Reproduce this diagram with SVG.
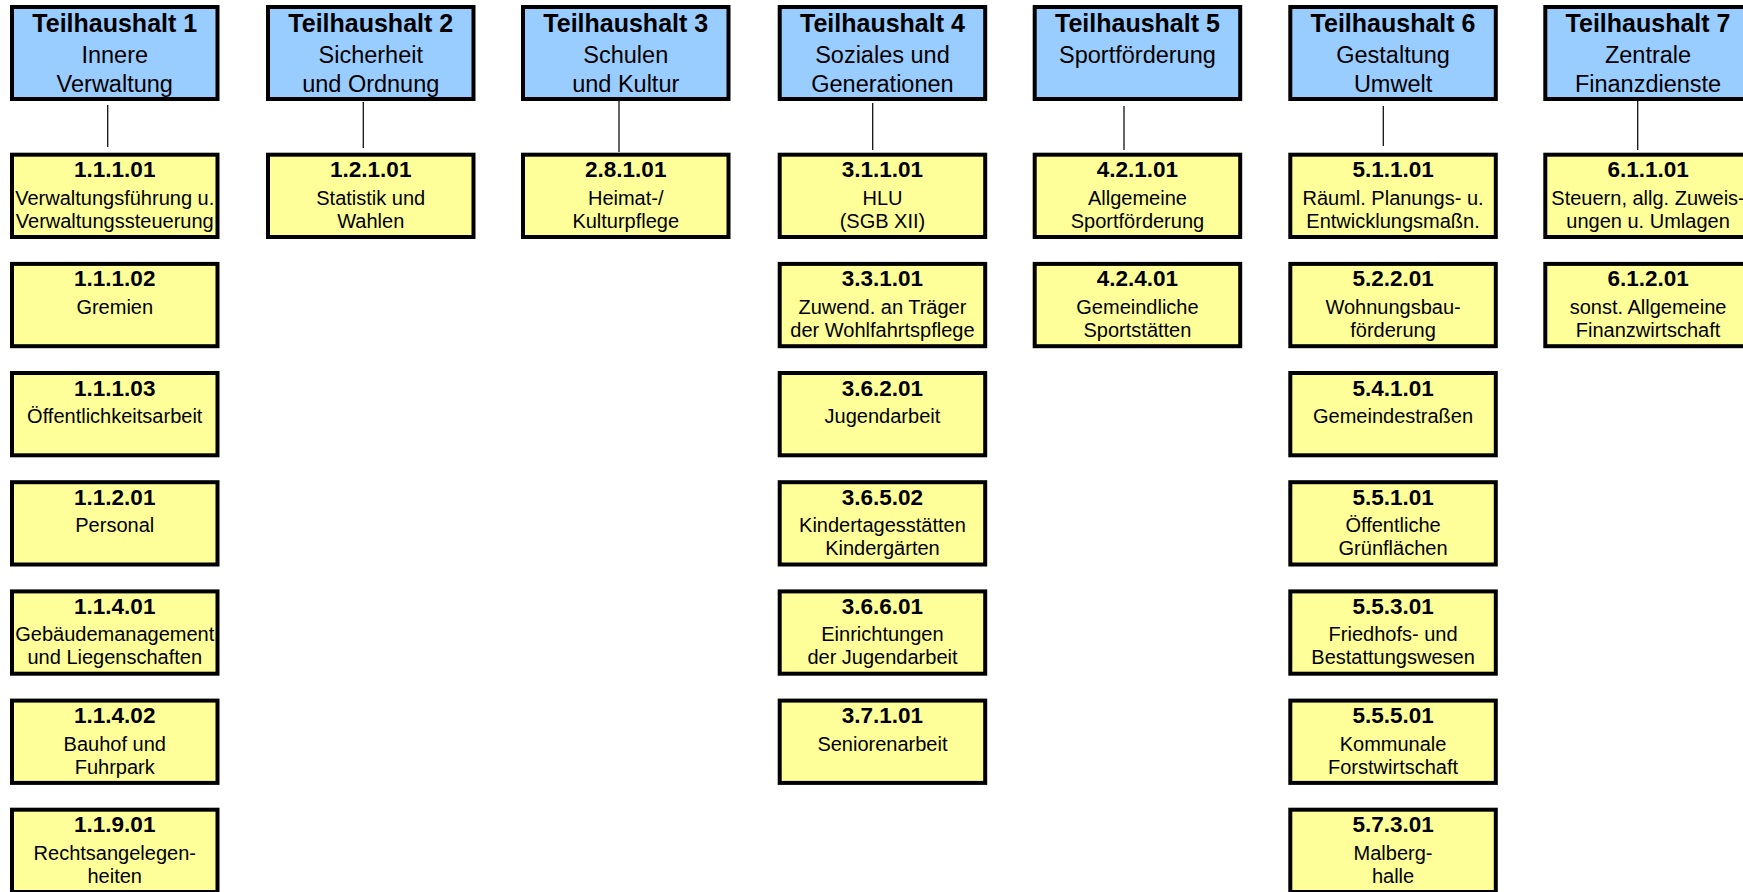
<svg xmlns="http://www.w3.org/2000/svg" width="1743" height="892" viewBox="0 0 1743 892">
<style>
.th{fill:#99CCFF;stroke:#000;stroke-width:4}
.pr{fill:#FFFF99;stroke:#000;stroke-width:4}
text{font-family:"Liberation Sans",Arial,sans-serif;fill:#000;text-anchor:middle}
.t1{font-size:25px;font-weight:bold}
.t2{font-size:23.5px}
.c{font-size:22.5px;font-weight:bold}
.s{font-size:20px}
.cn line{stroke:#111;stroke-width:1.3}
</style>
<rect width="1743" height="892" fill="#fff"/>
<g id="connectors" class="cn">
<line x1="107.7" y1="105" x2="107.7" y2="147"/>
<line x1="363.3" y1="102" x2="363.3" y2="148"/>
<line x1="619" y1="101" x2="619" y2="152"/>
<line x1="872.7" y1="103" x2="872.7" y2="150"/>
<line x1="1124" y1="106" x2="1124" y2="150"/>
<line x1="1383.3" y1="106" x2="1383.3" y2="146"/>
<line x1="1637.7" y1="101" x2="1637.7" y2="150"/>
</g>
<!-- Headers -->
<g id="th1"><rect class="th" x="12" y="7" width="205.5" height="92"/><text class="t1" x="114.75" y="32">Teilhaushalt 1</text><text class="t2" x="114.75" y="63.3">Innere</text><text class="t2" x="114.75" y="91.5">Verwaltung</text></g>
<g id="th2"><rect class="th" x="268" y="7" width="205.5" height="92"/><text class="t1" x="370.75" y="32">Teilhaushalt 2</text><text class="t2" x="370.75" y="63.3">Sicherheit</text><text class="t2" x="370.75" y="91.5">und Ordnung</text></g>
<g id="th3"><rect class="th" x="523" y="7" width="205.5" height="92"/><text class="t1" x="625.75" y="32">Teilhaushalt 3</text><text class="t2" x="625.75" y="63.3">Schulen</text><text class="t2" x="625.75" y="91.5">und Kultur</text></g>
<g id="th4"><rect class="th" x="779.7" y="7" width="205.5" height="92"/><text class="t1" x="882.45" y="32">Teilhaushalt 4</text><text class="t2" x="882.45" y="63.3">Soziales und</text><text class="t2" x="882.45" y="91.5">Generationen</text></g>
<g id="th5"><rect class="th" x="1034.7" y="7" width="205.5" height="92"/><text class="t1" x="1137.45" y="32">Teilhaushalt 5</text><text class="t2" x="1137.45" y="63.3">Sportförderung</text></g>
<g id="th6"><rect class="th" x="1290.3" y="7" width="205.5" height="92"/><text class="t1" x="1393.05" y="32">Teilhaushalt 6</text><text class="t2" x="1393.05" y="63.3">Gestaltung</text><text class="t2" x="1393.05" y="91.5">Umwelt</text></g>
<g id="th7"><rect class="th" x="1545.3" y="7" width="205.5" height="92"/><text class="t1" x="1648.05" y="32">Teilhaushalt 7</text><text class="t2" x="1648.05" y="63.3">Zentrale</text><text class="t2" x="1648.05" y="91.5">Finanzdienste</text></g>
<!-- Column 1 -->
<g id="p1-1-1-01"><rect class="pr" x="12" y="154.7" width="205.5" height="82.3"/><text class="c" x="114.75" y="177.2">1.1.1.01</text><text class="s" x="114.75" y="204.7">Verwaltungsführung u.</text><text class="s" x="114.75" y="227.7">Verwaltungssteuerung</text></g>
<g id="p1-1-1-02"><rect class="pr" x="12" y="263.9" width="205.5" height="82.3"/><text class="c" x="114.75" y="286.4">1.1.1.02</text><text class="s" x="114.75" y="313.9">Gremien</text></g>
<g id="p1-1-1-03"><rect class="pr" x="12" y="373" width="205.5" height="82.3"/><text class="c" x="114.75" y="395.5">1.1.1.03</text><text class="s" x="114.75" y="423">Öffentlichkeitsarbeit</text></g>
<g id="p1-1-2-01"><rect class="pr" x="12" y="482.2" width="205.5" height="82.3"/><text class="c" x="114.75" y="504.7">1.1.2.01</text><text class="s" x="114.75" y="532.2">Personal</text></g>
<g id="p1-1-4-01"><rect class="pr" x="12" y="591.4" width="205.5" height="82.3"/><text class="c" x="114.75" y="613.9">1.1.4.01</text><text class="s" x="114.75" y="641.4">Gebäudemanagement</text><text class="s" x="114.75" y="664.4">und Liegenschaften</text></g>
<g id="p1-1-4-02"><rect class="pr" x="12" y="700.6" width="205.5" height="82.3"/><text class="c" x="114.75" y="723.1">1.1.4.02</text><text class="s" x="114.75" y="750.6">Bauhof und</text><text class="s" x="114.75" y="773.6">Fuhrpark</text></g>
<g id="p1-1-9-01"><rect class="pr" x="12" y="809.7" width="205.5" height="82.3"/><text class="c" x="114.75" y="832.2">1.1.9.01</text><text class="s" x="114.75" y="859.7">Rechtsangelegen-</text><text class="s" x="114.75" y="882.7">heiten</text></g>
<!-- Column 2 -->
<g id="p1-2-1-01"><rect class="pr" x="268" y="154.7" width="205.5" height="82.3"/><text class="c" x="370.75" y="177.2">1.2.1.01</text><text class="s" x="370.75" y="204.7">Statistik und</text><text class="s" x="370.75" y="227.7">Wahlen</text></g>
<!-- Column 3 -->
<g id="p2-8-1-01"><rect class="pr" x="523" y="154.7" width="205.5" height="82.3"/><text class="c" x="625.75" y="177.2">2.8.1.01</text><text class="s" x="625.75" y="204.7">Heimat-/</text><text class="s" x="625.75" y="227.7">Kulturpflege</text></g>
<!-- Column 4 -->
<g id="p3-1-1-01"><rect class="pr" x="779.7" y="154.7" width="205.5" height="82.3"/><text class="c" x="882.45" y="177.2">3.1.1.01</text><text class="s" x="882.45" y="204.7">HLU</text><text class="s" x="882.45" y="227.7">(SGB XII)</text></g>
<g id="p3-3-1-01"><rect class="pr" x="779.7" y="263.9" width="205.5" height="82.3"/><text class="c" x="882.45" y="286.4">3.3.1.01</text><text class="s" x="882.45" y="313.9">Zuwend. an Träger</text><text class="s" x="882.45" y="336.9">der Wohlfahrtspflege</text></g>
<g id="p3-6-2-01"><rect class="pr" x="779.7" y="373" width="205.5" height="82.3"/><text class="c" x="882.45" y="395.5">3.6.2.01</text><text class="s" x="882.45" y="423">Jugendarbeit</text></g>
<g id="p3-6-5-02"><rect class="pr" x="779.7" y="482.2" width="205.5" height="82.3"/><text class="c" x="882.45" y="504.7">3.6.5.02</text><text class="s" x="882.45" y="532.2">Kindertagesstätten</text><text class="s" x="882.45" y="555.2">Kindergärten</text></g>
<g id="p3-6-6-01"><rect class="pr" x="779.7" y="591.4" width="205.5" height="82.3"/><text class="c" x="882.45" y="613.9">3.6.6.01</text><text class="s" x="882.45" y="641.4">Einrichtungen</text><text class="s" x="882.45" y="664.4">der Jugendarbeit</text></g>
<g id="p3-7-1-01"><rect class="pr" x="779.7" y="700.6" width="205.5" height="82.3"/><text class="c" x="882.45" y="723.1">3.7.1.01</text><text class="s" x="882.45" y="750.6">Seniorenarbeit</text></g>
<!-- Column 5 -->
<g id="p4-2-1-01"><rect class="pr" x="1034.7" y="154.7" width="205.5" height="82.3"/><text class="c" x="1137.45" y="177.2">4.2.1.01</text><text class="s" x="1137.45" y="204.7">Allgemeine</text><text class="s" x="1137.45" y="227.7">Sportförderung</text></g>
<g id="p4-2-4-01"><rect class="pr" x="1034.7" y="263.9" width="205.5" height="82.3"/><text class="c" x="1137.45" y="286.4">4.2.4.01</text><text class="s" x="1137.45" y="313.9">Gemeindliche</text><text class="s" x="1137.45" y="336.9">Sportstätten</text></g>
<!-- Column 6 -->
<g id="p5-1-1-01"><rect class="pr" x="1290.3" y="154.7" width="205.5" height="82.3"/><text class="c" x="1393.05" y="177.2">5.1.1.01</text><text class="s" x="1393.05" y="204.7">Räuml. Planungs- u.</text><text class="s" x="1393.05" y="227.7">Entwicklungsmaßn.</text></g>
<g id="p5-2-2-01"><rect class="pr" x="1290.3" y="263.9" width="205.5" height="82.3"/><text class="c" x="1393.05" y="286.4">5.2.2.01</text><text class="s" x="1393.05" y="313.9">Wohnungsbau-</text><text class="s" x="1393.05" y="336.9">förderung</text></g>
<g id="p5-4-1-01"><rect class="pr" x="1290.3" y="373" width="205.5" height="82.3"/><text class="c" x="1393.05" y="395.5">5.4.1.01</text><text class="s" x="1393.05" y="423">Gemeindestraßen</text></g>
<g id="p5-5-1-01"><rect class="pr" x="1290.3" y="482.2" width="205.5" height="82.3"/><text class="c" x="1393.05" y="504.7">5.5.1.01</text><text class="s" x="1393.05" y="532.2">Öffentliche</text><text class="s" x="1393.05" y="555.2">Grünflächen</text></g>
<g id="p5-5-3-01"><rect class="pr" x="1290.3" y="591.4" width="205.5" height="82.3"/><text class="c" x="1393.05" y="613.9">5.5.3.01</text><text class="s" x="1393.05" y="641.4">Friedhofs- und</text><text class="s" x="1393.05" y="664.4">Bestattungswesen</text></g>
<g id="p5-5-5-01"><rect class="pr" x="1290.3" y="700.6" width="205.5" height="82.3"/><text class="c" x="1393.05" y="723.1">5.5.5.01</text><text class="s" x="1393.05" y="750.6">Kommunale</text><text class="s" x="1393.05" y="773.6">Forstwirtschaft</text></g>
<g id="p5-7-3-01"><rect class="pr" x="1290.3" y="809.7" width="205.5" height="82.3"/><text class="c" x="1393.05" y="832.2">5.7.3.01</text><text class="s" x="1393.05" y="859.7">Malberg-</text><text class="s" x="1393.05" y="882.7">halle</text></g>
<!-- Column 7 -->
<g id="p6-1-1-01"><rect class="pr" x="1545.3" y="154.7" width="205.5" height="82.3"/><text class="c" x="1648.05" y="177.2">6.1.1.01</text><text class="s" x="1648.05" y="204.7">Steuern, allg. Zuweis-</text><text class="s" x="1648.05" y="227.7">ungen u. Umlagen</text></g>
<g id="p6-1-2-01"><rect class="pr" x="1545.3" y="263.9" width="205.5" height="82.3"/><text class="c" x="1648.05" y="286.4">6.1.2.01</text><text class="s" x="1648.05" y="313.9">sonst. Allgemeine</text><text class="s" x="1648.05" y="336.9">Finanzwirtschaft</text></g>
</svg>
